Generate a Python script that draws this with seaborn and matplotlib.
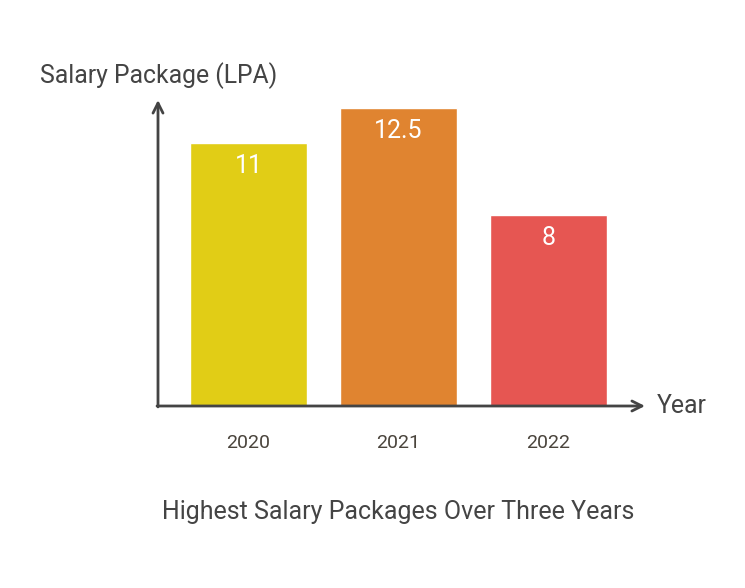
import matplotlib
matplotlib.use("Agg")
import matplotlib.pyplot as plt
import seaborn as sns
import pandas as pd

years = ["2020", "2021", "2022"]
packages = [11, 12.5, 8]
colors = ["#E1CD16", "#E08430", "#E65652"]
y_label = "Salary Package (LPA)"
x_label = "Year"
title = "Highest Salary Packages Over Three Years"

sns.set_theme(style="white")
plt.rcParams["font.family"] = ["Roboto", "DejaVu Sans"]

W, H = 745, 588
fig = plt.figure(figsize=(W / 100, H / 100), dpi=100)
x0, y0, x1, y1 = 158, 406, 645, 100
ax = fig.add_axes([x0 / W, (H - y0) / H, (x1 - x0) / W, (y0 - y1) / H])

df = pd.DataFrame({"year": years, "pkg": packages})
sns.barplot(data=df, x="year", y="pkg", hue="year", palette=colors,
            width=0.78, legend=False, ax=ax, saturation=1)

ax.set_xlim(-0.603, 2.643)
ax.set_ylim(0, 12.82)
for s in ax.spines.values():
    s.set_visible(False)
ax.set_yticks([])
ax.set_xlabel("")
ax.set_ylabel("")
ax.tick_params(axis="x", length=0, pad=20.5, labelsize=14, labelcolor="#4a443c")

axis_col = "#444444"
ax.annotate("", xy=(0, 1.0), xytext=(0, -0.003), xycoords="axes fraction",
            arrowprops=dict(arrowstyle="->,head_length=0.6,head_width=0.3", lw=2,
                            color=axis_col, shrinkA=0, shrinkB=0))
ax.annotate("", xy=(1.0, 0), xytext=(-0.002, 0), xycoords="axes fraction",
            arrowprops=dict(arrowstyle="->,head_length=0.6,head_width=0.3", lw=2,
                            color=axis_col, shrinkA=0, shrinkB=0))

for i, v in enumerate(packages):
    ax.annotate(f"{v:g}", xy=(i, v), xytext=(0, -16.5), textcoords="offset points",
                ha="center", va="center", color="white", fontsize=18)

fig.text(40 / W, 1 - 76 / H, y_label, ha="left", va="center",
         fontsize=17.8, color="#444444")
fig.text(657 / W, 1 - 406 / H, x_label, ha="left", va="center",
         fontsize=17.8, color="#444444")
fig.text(398.5 / W, 1 - 512 / H, title, ha="center", va="center",
         fontsize=18, color="#444444")

fig.savefig("out.png", dpi=100, facecolor="white")
